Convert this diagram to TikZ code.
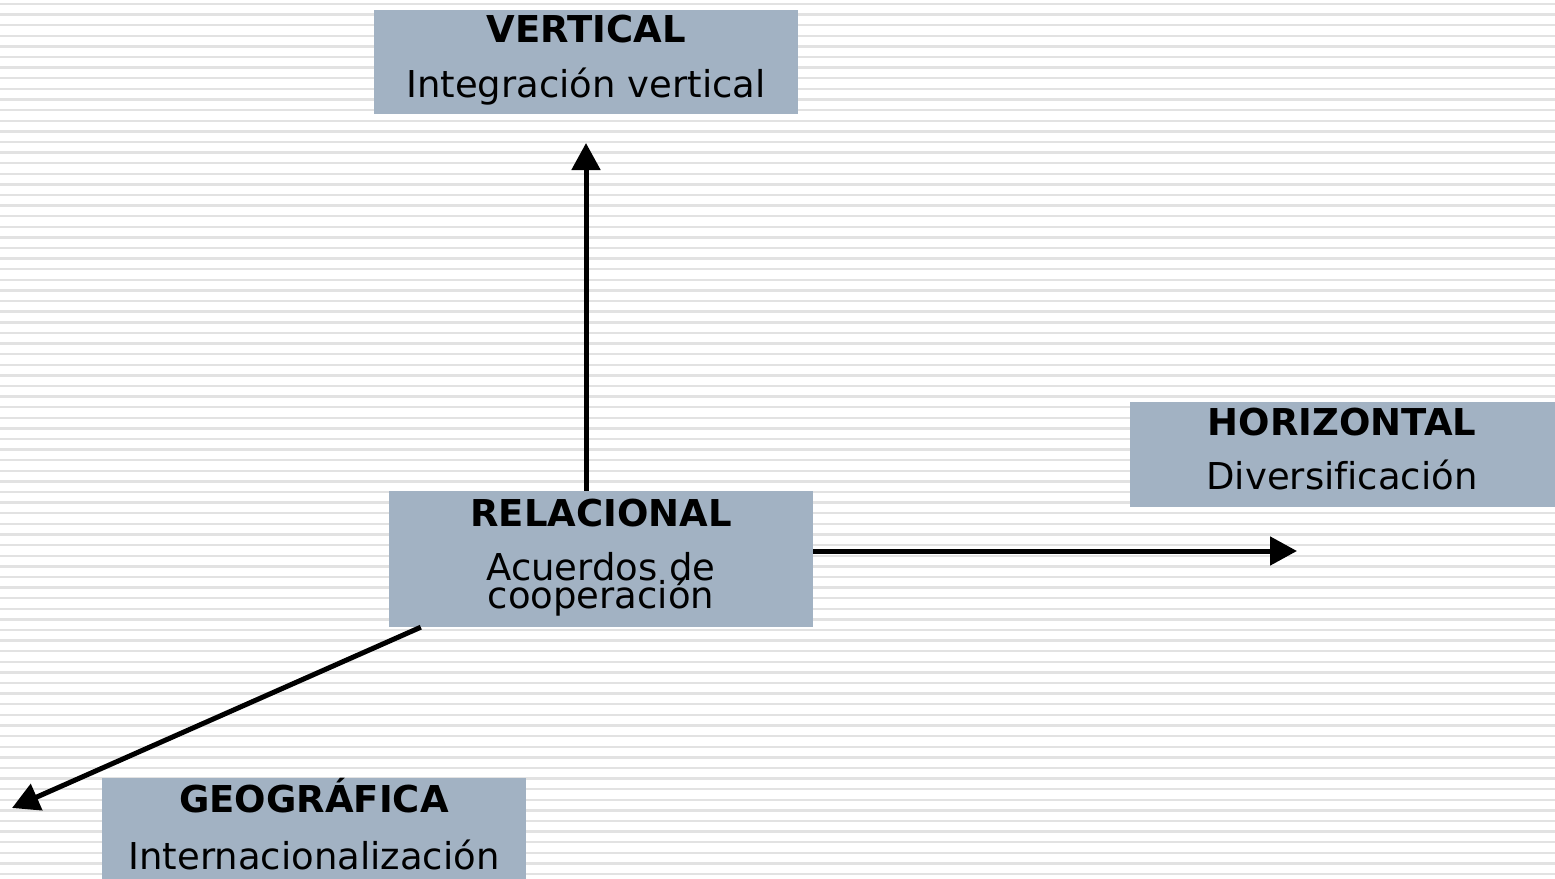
\documentclass[tikz,border=0pt]{standalone}
\usepackage{fontspec}
\setmainfont[Ligatures=NoCommon]{DejaVu Sans}
\usetikzlibrary{arrows.meta,calc}
\definecolor{boxfill}{RGB}{162,178,195}
\definecolor{stripecol}{RGB}{226,226,226}
\begin{document}
\begin{tikzpicture}[x=1pt,y=-1pt,
  box/.style={rectangle,fill=boxfill,draw=none,inner sep=0pt},
  lbl/.style={anchor=base,inner sep=0pt,font=\fontsize{37}{40}\selectfont},
  ttl/.style={lbl,font=\fontsize{37}{40}\selectfont\bfseries},
  arr/.style={line width=5pt,-{Triangle[length=27pt,width=28pt]}},
  stripe/.style={line width=2.4pt,stripecol}]
\useasboundingbox (0,0) rectangle (1555,878);
\fill[white] (0,0) rectangle (1555,878);
\foreach \i in {0,...,82} {
  \draw[stripe] (0,{4+\i*10.61}) -- (1555,{4+\i*10.61});
}
% boxes
\node[box,minimum width=424pt,minimum height=104pt] (vbox) at (586,61.5) {};
\node[box,minimum width=424pt,minimum height=136pt] (rbox) at (601,559) {};
\node[box,minimum width=425pt,minimum height=105pt] (hbox) at (1342.5,454.5) {};
\node[box,minimum width=424pt,minimum height=102pt] (gbox) at (314,829) {};
% texts
\node[ttl] (vt) at (586,42) {VERTICAL};
\node[lbl] (vs) at (586,97) {Integración vertical};
\node[ttl] (rt) at (601,526) {RELACIONAL};
\node[lbl] (rs1) at (601,580) {Acuerdos de};
\node[lbl] (rs2) at (601,608) {cooperación};
\node[ttl] (ht) at (1342,435) {HORIZONTAL};
\node[lbl] (hs) at (1342,489) {Diversif\kern0pt icación};
\node[ttl] (gt) at (314,812) {GEOGRÁFICA};
\node[lbl] (gs) at (314,869) {Internacionalización};
% arrows
\coordinate (vtip) at (586,143);
\coordinate (htip) at (1297,551);
\coordinate (gtip) at (12,808);
\draw[arr] (rbox.north -| vtip) -- (vtip);
\draw[arr] (rbox.east |- htip) -- (htip);
\draw[arr] ($(rbox.south west)+(32,0)$) -- (gtip);
\end{tikzpicture}
\end{document}
